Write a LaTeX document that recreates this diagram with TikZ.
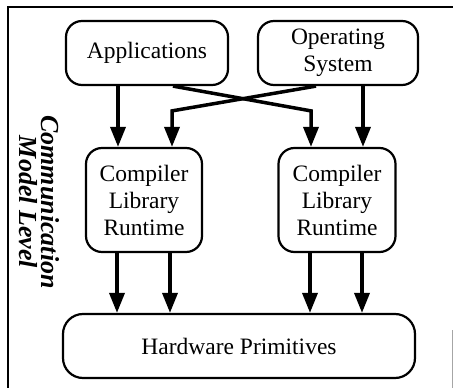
\documentclass[tikz,border=0pt]{standalone}
\usepackage{fontspec}
\setmainfont{Liberation Serif}
\usetikzlibrary{arrows.meta}
\begin{document}
\begin{tikzpicture}[x=1pt,y=-1pt,
  box/.style={draw, line width=2.2pt, rounded corners=16pt, inner sep=0pt, align=center,
    font=\fontsize{23.5}{27}\selectfont},
  arr/.style={line width=3.5pt, -{Triangle[length=20pt,width=15pt]}},
  frame/.style={line width=1.4pt}]
\useasboundingbox (0,0) rectangle (453,388);
% frame
\coordinate (ftl) at (8,7);
\coordinate (ftr) at (453,7);
\coordinate (fbl) at (8,388);
\draw[frame] (ftr) -- (ftl) -- (fbl);
\coordinate (frt) at (452,330);
\coordinate (frb) at (452,388);
\draw[line width=1pt, gray!70] (frt) -- (frb);
% nodes
\node[box, minimum width=162pt, minimum height=64pt] (app) at (147,53) {Applications};
\node[box, minimum width=160pt, minimum height=64pt] (os) at (338,53) {Operating\\System};
\node[box, minimum width=116pt, minimum height=104pt] (cl) at (144,200) {Compiler\\Library\\Runtime};
\node[box, minimum width=117pt, minimum height=104pt] (cr) at (337,200) {Compiler\\Library\\Runtime};
\node[box, minimum width=352pt, minimum height=64pt, rounded corners=20pt] (hw) at (239,346) {Hardware Primitives};
\node[rotate=-90, align=center, inner sep=0pt, font=\fontsize{26}{22}\selectfont\bfseries\itshape] (lvl) at (39,202) {Communication\\Model Level};
% top arrows
\draw[arr] ([xshift=-29pt]app.south) -- ([xshift=-29pt]app.south |- cl.north);
\draw[arr] ([xshift=25pt]os.south) -- ([xshift=25pt]os.south |- cr.north);
\draw[arr, line join=miter] ([xshift=26pt]app.south) -- ([xshift=-26pt, yshift=36pt]cr.north) -- ([xshift=-26pt]cr.north);
\draw[arr, line join=miter] ([xshift=-22pt]os.south) -- ([xshift=28pt, yshift=36pt]cl.north) -- ([xshift=28pt]cl.north);
% bottom arrows
\draw[arr] ([xshift=-27pt]cl.south) -- ([xshift=-27pt]cl.south |- hw.north);
\draw[arr] ([xshift=26pt]cl.south) -- ([xshift=26pt]cl.south |- hw.north);
\draw[arr] ([xshift=-27pt]cr.south) -- ([xshift=-27pt]cr.south |- hw.north);
\draw[arr] ([xshift=25pt]cr.south) -- ([xshift=25pt]cr.south |- hw.north);
\end{tikzpicture}
\end{document}
